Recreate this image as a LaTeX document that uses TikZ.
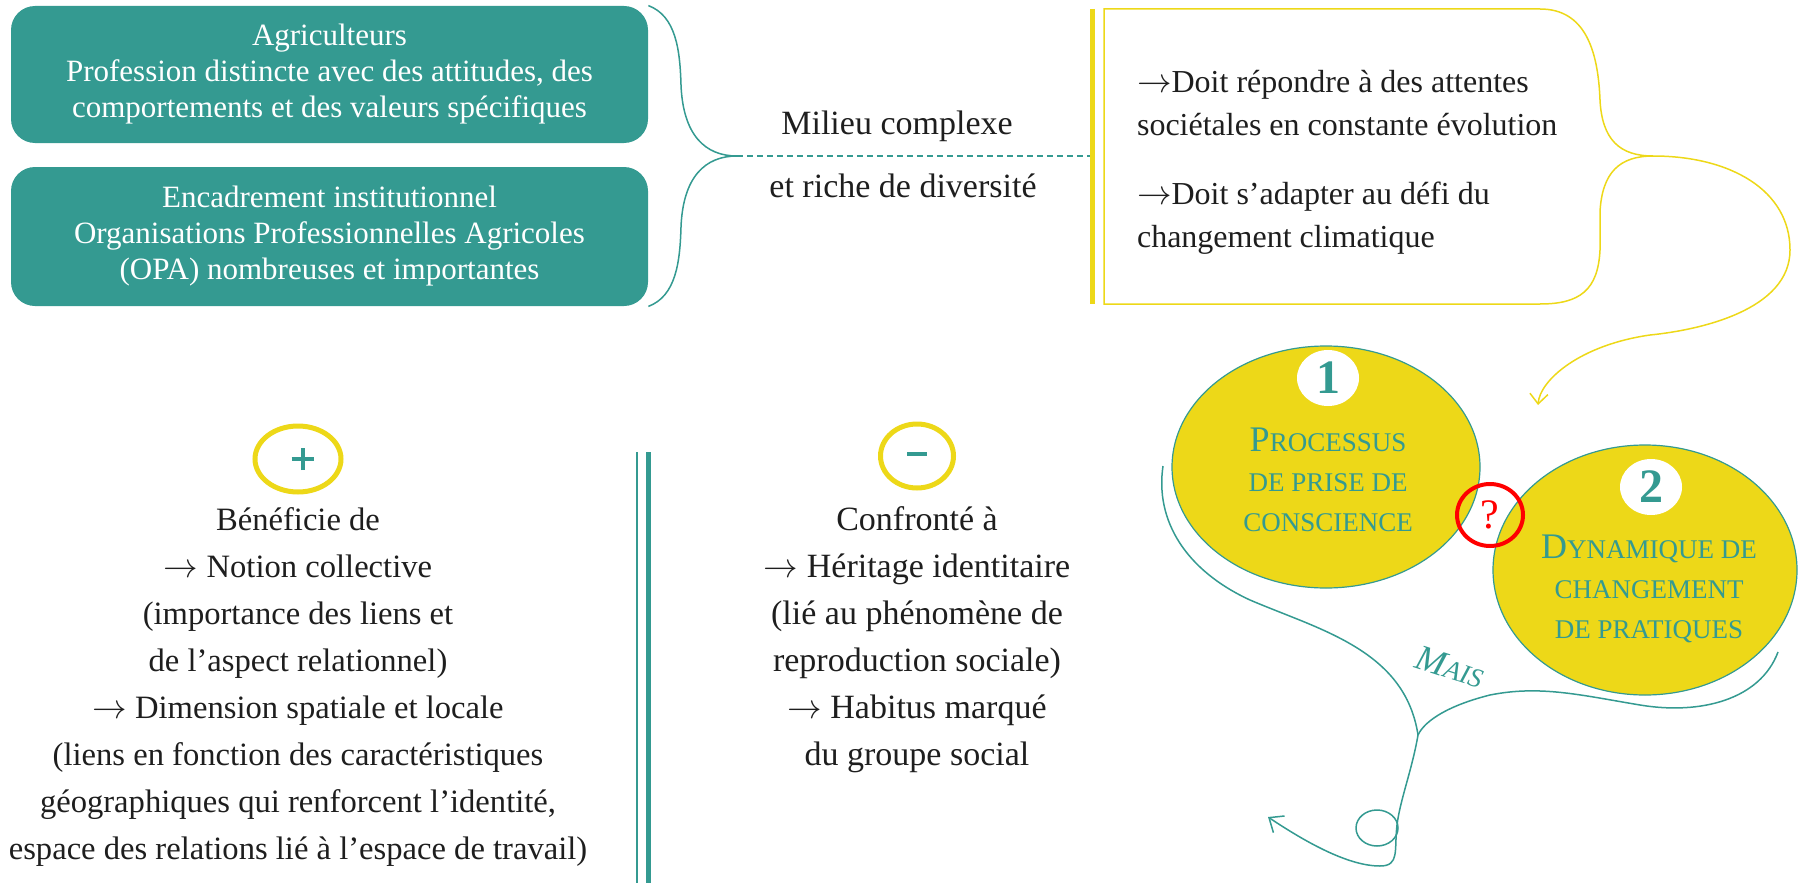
\documentclass[tikz,border=0pt]{standalone}
\usepackage{fontspec}
\setmainfont{Liberation Serif}
\usetikzlibrary{shapes.geometric,arrows.meta}
\definecolor{tealc}{HTML}{349A91}
\definecolor{yellowc}{HTML}{EDD818}
\definecolor{inkc}{HTML}{1E1E1E}
\newcommand{\capbig}[1]{{\fontsize{18}{20}\selectfont #1}}
\newcommand{\capsmall}[1]{{\fontsize{13.5}{20}\selectfont #1}}
\newcommand{\plusmark}{\rlap{\rule[4.5pt]{11pt}{2pt}}\hspace{4.5pt}\rule{2pt}{11pt}\hspace{4.5pt}}
\begin{document}
\begin{tikzpicture}[x=0.5pt,y=-0.5pt,
    tealbox/.style={rounded corners=12pt, fill=tealc, text=white, align=center,
      inner sep=0pt, minimum width=318.5pt, font=\fontsize{15.5}{18}\selectfont},
    bubble/.style={ellipse, draw=tealc, fill=yellowc, line width=0.6pt, inner sep=0pt},
    badge/.style={ellipse, fill=white, text=tealc, inner sep=0pt,
      minimum width=31pt, minimum height=28pt, font=\bfseries\fontsize{24}{24}\selectfont},
    bubbletext/.style={align=center, text=tealc, font=\fontsize{13.5}{20}\selectfont},
    signring/.style={ellipse, draw=yellowc, line width=2.5pt, text=tealc, inner sep=0pt},
    column/.style={align=center, text=inkc, font=\fontsize{17}{23.5}\selectfont},
    thin teal/.style={draw=tealc, line width=0.75pt},
    thin yellow/.style={draw=yellowc, line width=0.75pt}]
  \useasboundingbox (0,0) rectangle (1798,883);

  % the two teal boxes
  \node[tealbox, minimum height=68.5pt] (agri) at (329.5,74.5)
    {Agriculteurs\\Profession distincte avec des attitudes, des\\comportements et des valeurs spécifiques};
  \node[tealbox, minimum height=69.5pt] (opa) at (329.5,236.5)
    {Encadrement institutionnel\\Organisations Professionnelles Agricoles\\(OPA) nombreuses et importantes};

  % brace and dashed line
  \coordinate (tip) at (737,156);
  \coordinate (lineend) at (1092,156);
  \draw[thin teal] (agri.north east) .. controls (676,16) and (680,50) .. (681,85)
    .. controls (683,135) and (705,156) .. (tip)
    .. controls (705,156) and (683,177) .. (681,227)
    .. controls (680,262) and (676,296) .. (opa.south east);
  \draw[thin teal, dash pattern=on 3pt off 2pt] (tip) -- (lineend);
  \node[column] (milieu) at (897,126) {Milieu complexe};
  \node[column] (riche) at (903,186) {et riche de diversité};

  % yellow box
  \draw[draw=yellowc, line width=2.5pt] (1092,9) -- (1092,304);
  \coordinate (ytip) at (1653,156);
  \coordinate (yend) at (1538,405);
  \draw[thin yellow] (1104,9) -- (1540,9) .. controls (1585,9) and (1598,50) .. (1600,100)
    .. controls (1602,140) and (1620,156) .. (ytip)
    .. controls (1620,156) and (1602,172) .. (1600,212) -- (1600,250)
    .. controls (1598,290) and (1580,304) .. (1540,304) -- (1104,304) -- cycle;
  \node[align=left, text=inkc, font=\fontsize{16}{21.5}\selectfont, anchor=west] (attentes) at (1130,162)
    {$\rightarrow$Doit répondre à des attentes\\sociétales en constante évolution\\[13pt]$\rightarrow$Doit s’adapter au défi du\\changement climatique};
  \draw[thin yellow, -{Straight Barb[length=5pt,width=9pt]}] (ytip)
    .. controls (1730,156) and (1790,190) .. (1790,250)
    .. controls (1790,310) and (1700,330) .. (1650,335)
    .. controls (1580,345) and (1540,380) .. (yend);

  % the two bubbles
  \node[bubble, minimum width=154pt, minimum height=121pt] (prise) at (1326,467) {};
  \node[bubble, minimum width=152pt, minimum height=125pt] (dyn) at (1645,570) {};
  \node[badge] (un) at (1328,378) {1};
  \node[badge] (deux) at (1651,487) {2};
  \node[bubbletext] (prisetext) at (1328,480)
    {\capbig{P}\capsmall{ROCESSUS}\\\capsmall{DE PRISE DE}\\\capsmall{CONSCIENCE}};
  \node[bubbletext] (dyntext) at (1649,589)
    {\capbig{D}\capsmall{YNAMIQUE DE}\\\capsmall{CHANGEMENT}\\\capsmall{DE PRATIQUES}};
  \node[ellipse, draw=red, line width=2pt, minimum width=33pt, minimum height=31pt, inner sep=0pt,
    text=red, font=\fontsize{21}{21}\selectfont] (doute) at (1490,515) {?};
  \node[rotate=-18, text=tealc, font=\itshape] (mais) at (1450,667)
    {\capbig{M}\capsmall{AIS}};

  % teal swirl
  \coordinate (s0) at (1163,466);
  \coordinate (s1) at (1778,652);
  \coordinate (join) at (1418,735);
  \coordinate (send) at (1268,817);
  \draw[thin teal] (s0) .. controls (1155,520) and (1185,570) .. (1250,600)
    .. controls (1320,630) and (1405,650) .. (join);
  \draw[thin teal] (s1) .. controls (1760,700) and (1700,715) .. (1640,705)
    .. controls (1580,695) and (1540,685) .. (1490,695)
    .. controls (1450,705) and (1425,720) .. (join);
  \draw[thin teal, -{Straight Barb[length=6pt,width=10pt]}] (join)
    .. controls (1412,770) and (1400,800) .. (1397,825)
    .. controls (1394,850) and (1400,866) .. (1380,866)
    .. controls (1350,866) and (1310,845) .. (send);
  \draw[thin teal] (1377,828) ellipse [x radius=21, y radius=18];

  % plus and minus columns
  \node[signring, minimum width=43pt, minimum height=33pt] (plus) at (298,459) {\plusmark};
  \node[signring, minimum width=36.5pt, minimum height=32pt] (moins) at (917,456)
    {\rule[2pt]{10pt}{1.8pt}};
  \node[column, font=\fontsize{16.3}{23.5}\selectfont] (benefice) at (298,687)
    {Bénéficie de\\$\rightarrow$ Notion collective\\(importance des liens et\\de l’aspect relationnel)\\$\rightarrow$ Dimension spatiale et locale\\(liens en fonction des caractéristiques\\géographiques qui renforcent l’identité,\\espace des relations lié à l’espace de travail)};
  \node[column] (confronte) at (917,640)
    {Confronté à\\$\rightarrow$ Héritage identitaire\\(lié au phénomène de\\reproduction sociale)\\$\rightarrow$ Habitus marqué\\du groupe social};
  \draw[draw=tealc, line width=0.75pt] (637,452) -- (637,883);
  \draw[draw=tealc, line width=2.5pt] (648,452) -- (648,883);
\end{tikzpicture}
\end{document}
